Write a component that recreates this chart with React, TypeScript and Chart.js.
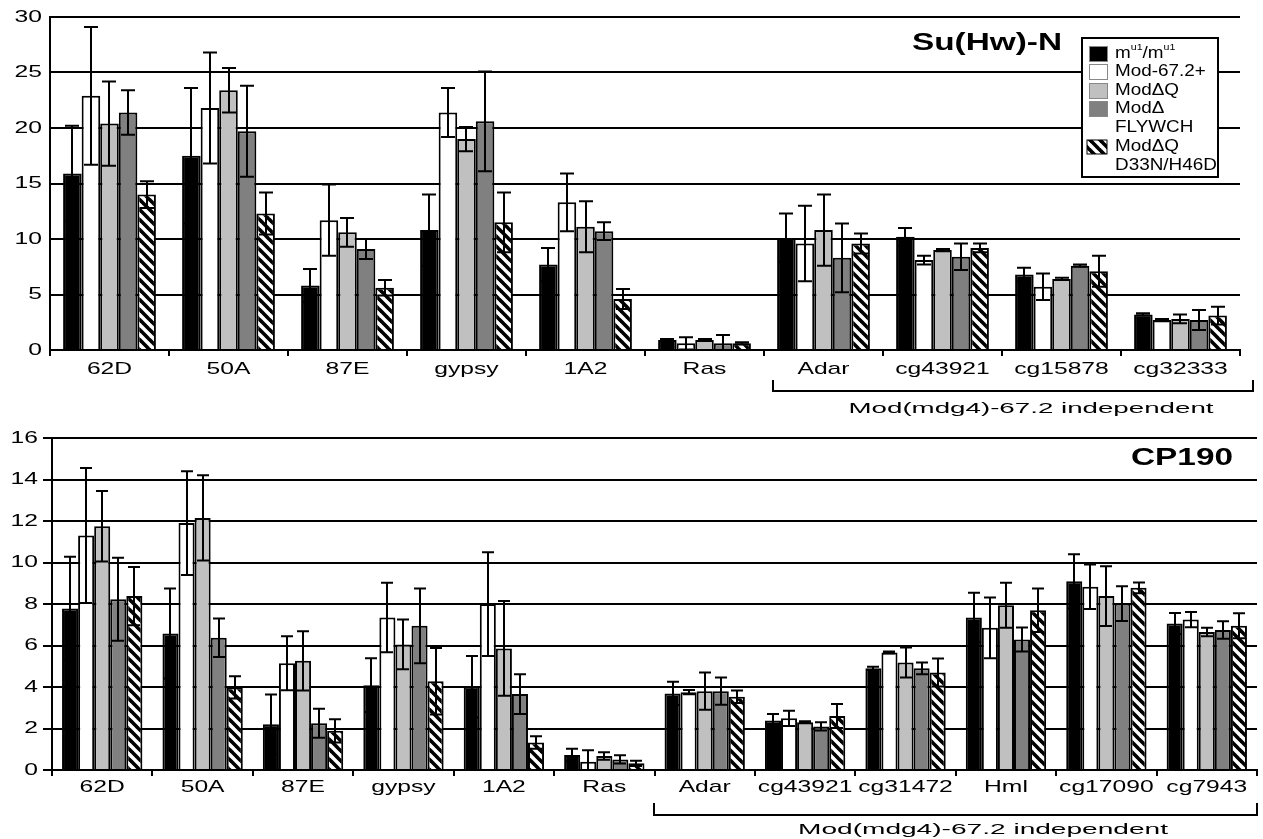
import React, { useEffect, useRef } from "react";
import { Chart, registerables } from "chart.js";
Chart.register(...registerables);

const FONT = "'Liberation Sans', Arial, Helvetica, sans-serif";

// ---------- DATA ----------
const seriesLabels = ["m{u1}/m{u1}", "Mod-67.2+", "ModΔQ", "ModΔ\nFLYWCH", "ModΔQ\nD33N/H46D"];

// Su(Hw)-N panel
const topTitle = "Su(Hw)-N";
const topCategories = ["62D", "50A", "87E", "gypsy", "1A2", "Ras", "Adar", "cg43921", "cg15878", "cg32333"];
const topYTicks = [0, 5, 10, 15, 20, 25, 30];
const topMutant = [15.9, 17.5, 5.8, 10.8, 7.7, 0.9, 10.1, 10.2, 6.8, 3.2];
const topMutantErr = [4.3, 6.1, 1.5, 3.2, 1.5, 0.1, 2.2, 0.8, 0.6, 0.1];
const topMod672 = [22.9, 21.8, 11.7, 21.4, 13.3, 0.6, 9.6, 8.1, 5.7, 2.7];
const topMod672Err = [6.2, 5.0, 3.2, 2.2, 2.6, 0.55, 3.4, 0.4, 1.2, 0.1];
const topModDQ = [20.4, 23.4, 10.6, 19.0, 11.1, 0.9, 10.8, 9.0, 6.4, 2.8];
const topModDQErr = [3.8, 2.0, 1.3, 1.1, 2.3, 0.1, 3.2, 0.1, 0.1, 0.4];
const topModDF = [21.4, 19.7, 9.1, 20.6, 10.7, 0.6, 8.3, 8.4, 7.6, 2.7];
const topModDFErr = [2.0, 4.1, 0.9, 4.5, 0.8, 0.75, 3.1, 1.2, 0.1, 0.9];
const topModDQmut = [14.0, 12.3, 5.6, 11.5, 4.6, 0.6, 9.6, 9.2, 7.1, 3.1];
const topModDQmutErr = [1.2, 1.9, 0.7, 2.7, 0.9, 0.1, 0.9, 0.4, 1.4, 0.8];

// CP190 panel
const botTitle = "CP190";
const botCategories = ["62D", "50A", "87E", "gypsy", "1A2", "Ras", "Adar", "cg43921", "cg31472", "Hml", "cg17090", "cg7943"];
const botYTicks = [0, 2, 4, 6, 8, 10, 12, 14, 16];
const botMutant = [7.78, 6.58, 2.2, 4.09, 4.01, 0.72, 3.69, 2.38, 4.9, 7.35, 9.1, 7.06];
const botMutantErr = [2.5, 2.17, 1.44, 1.29, 1.48, 0.3, 0.56, 0.32, 0.08, 1.19, 1.3, 0.51];
const botMod672 = [11.3, 11.9, 5.14, 7.35, 8.0, 0.4, 3.75, 2.49, 5.66, 6.85, 8.83, 7.25];
const botMod672Err = [3.25, 2.5, 1.3, 1.67, 2.5, 0.55, 0.1, 0.37, 0.05, 1.46, 1.07, 0.37];
const botModDQ = [11.75, 12.15, 5.26, 6.05, 5.86, 0.67, 3.8, 2.3, 5.18, 7.94, 8.38, 6.65];
const botModDQErr = [1.7, 2.05, 1.43, 1.2, 2.28, 0.18, 0.9, 0.05, 0.72, 1.08, 1.44, 0.2];
const botModDF = [8.23, 6.37, 2.25, 6.95, 3.66, 0.51, 3.8, 2.1, 4.9, 6.29, 8.02, 6.75];
const botModDFErr = [2.0, 0.93, 0.7, 1.8, 0.96, 0.2, 0.66, 0.2, 0.28, 0.58, 0.84, 0.42];
const botModDQmut = [8.38, 3.98, 1.89, 4.28, 1.33, 0.32, 3.53, 2.6, 4.7, 7.7, 8.78, 6.95];
const botModDQmutErr = [1.4, 0.54, 0.56, 1.6, 0.3, 0.13, 0.3, 0.58, 0.67, 1.05, 0.26, 0.6];

const bracketLabel = "Mod(mdg4)-67.2 independent";

// ---------- STYLE ----------
const fills = ["#000000", "#ffffff", "#c0c0c0", "#808080", "HATCH"];

function makeHatch(): CanvasPattern | string {
  const s = 10;
  const c = document.createElement("canvas");
  c.width = s;
  c.height = s;
  const g = c.getContext("2d");
  if (!g) return "#888";
  g.fillStyle = "#fff";
  g.fillRect(0, 0, s, s);
  g.strokeStyle = "#000";
  g.lineWidth = 3.6;
  for (const k of [-1, 0, 1]) {
    g.beginPath();
    g.moveTo(-1, k * s - 1);
    g.lineTo(s + 1, (k + 1) * s + 1);
    g.stroke();
  }
  return g.createPattern(c, "repeat") || "#888";
}

function sText(ctx: CanvasRenderingContext2D, text: string, x: number, y: number, align: string, font: string, sx: number) {
  ctx.save();
  ctx.font = font;
  ctx.textBaseline = "middle";
  ctx.textAlign = "left";
  const w = ctx.measureText(text).width * sx;
  const x0 = align === "left" ? x : align === "center" ? x - w / 2 : x - w;
  ctx.translate(x0, y);
  ctx.scale(sx, 1);
  ctx.fillStyle = "#000";
  ctx.fillText(text, 0, 0);
  ctx.restore();
  return w;
}

function fitText(ctx: CanvasRenderingContext2D, text: string, cx: number, y: number, font: string, targetW: number) {
  ctx.save();
  ctx.font = font;
  const w = ctx.measureText(text).width;
  ctx.restore();
  sText(ctx, text, cx, y, "center", font, targetW / w);
}

function drawRich(ctx: CanvasRenderingContext2D, text: string, x: number, y: number, size: number, sx: number) {
  const parts = text.split(/(\{[^}]*\})/).filter((p) => p.length);
  let cx = x;
  for (const p of parts) {
    if (p.startsWith("{")) {
      cx += sText(ctx, p.slice(1, -1), cx, y - 6, "left", `${Math.round(size * 0.55)}px ${FONT}`, sx);
    } else {
      cx += sText(ctx, p, cx, y, "left", `${size}px ${FONT}`, sx);
    }
  }
}

type Cfg = {
  categories: string[];
  series: number[][];
  errors: number[][];
  yMax: number;
  step: number;
  yTicks: number[];
  width: number;
  height: number;
  yAxisW: number;
  padTop: number;
  padRight: number;
  plotBottom: number;
  yTickLen: number;
  yLabelRight: number;
  xLabelY: number;
  catPct: number;
  capHalf: number;
  title: string;
  titleRight: number;
  titleY: number;
  bracket: { x1: number; x2: number; y: number; tickTop: number; textX: number; textY: number; textW: number };
  legend: boolean;
};

function buildChart(canvas: HTMLCanvasElement, cfg: Cfg) {
  const hatch = makeHatch();
  const datasets = cfg.series.map((vals, i) => ({
    label: seriesLabels[i],
    data: vals,
    backgroundColor: fills[i] === "HATCH" ? (hatch as any) : fills[i],
    borderColor: "#000",
    borderWidth: 2,
    barPercentage: 1,
    categoryPercentage: cfg.catPct,
  }));

  const overlay = {
    id: "overlay",
    afterDatasetsDraw(chart: any) {
      const ctx: CanvasRenderingContext2D = chart.ctx;
      const ys = chart.scales.y;
      ctx.save();
      ctx.strokeStyle = "#000";
      ctx.lineWidth = 2;
      cfg.series.forEach((vals, di) => {
        const meta = chart.getDatasetMeta(di);
        vals.forEach((v, j) => {
          const e = cfg.errors[di][j];
          const el = meta.data[j];
          const x = Math.round(el.x);
          const yt = ys.getPixelForValue(v + e);
          const yb = ys.getPixelForValue(Math.max(0, v - e));
          ctx.beginPath();
          ctx.moveTo(x, yt);
          ctx.lineTo(x, yb);
          ctx.moveTo(x - cfg.capHalf, yt);
          ctx.lineTo(x + cfg.capHalf, yt);
          ctx.moveTo(x - cfg.capHalf, yb);
          ctx.lineTo(x + cfg.capHalf, yb);
          ctx.stroke();
        });
      });
      ctx.restore();
    },
    afterDraw(chart: any) {
      const ctx: CanvasRenderingContext2D = chart.ctx;
      const ys = chart.scales.y;
      const xs = chart.scales.x;
      cfg.yTicks.forEach((t) => {
        sText(ctx, String(t), cfg.yLabelRight, ys.getPixelForValue(t), "right", `17px ${FONT}`, 1.45);
      });
      cfg.categories.forEach((c, i) => {
        sText(ctx, c, xs.getPixelForValue(i), cfg.xLabelY, "center", `17px ${FONT}`, 1.45);
      });
      sText(ctx, cfg.title, cfg.titleRight, cfg.titleY, "right", `bold 23px ${FONT}`, 1.45);
      const b = cfg.bracket;
      ctx.save();
      ctx.strokeStyle = "#000";
      ctx.lineWidth = 2;
      ctx.beginPath();
      ctx.moveTo(b.x1, b.tickTop);
      ctx.lineTo(b.x1, b.y);
      ctx.lineTo(b.x2, b.y);
      ctx.lineTo(b.x2, b.tickTop);
      ctx.stroke();
      ctx.restore();
      fitText(ctx, bracketLabel, b.textX, b.textY, `15px ${FONT}`, b.textW);
      if (cfg.legend) {
        const bx = 1082, by = 38, bw = 136, bh = 139;
        ctx.save();
        ctx.fillStyle = "#fff";
        ctx.fillRect(bx, by, bw, bh);
        ctx.strokeStyle = "#000";
        ctx.lineWidth = 2;
        ctx.strokeRect(bx, by, bw, bh);
        const rowY = [54, 72, 91, 109, 147];
        seriesLabels.forEach((lab, i) => {
          const cy = rowY[i];
          if (fills[i] === "HATCH") {
            ctx.fillStyle = hatch as any;
            ctx.fillRect(1087, cy - 7, 20, 14);
            ctx.strokeStyle = "#000";
            ctx.lineWidth = 1;
            ctx.strokeRect(1087, cy - 7, 20, 14);
          } else {
            ctx.fillStyle = fills[i];
            ctx.fillRect(1089, cy - 8, 19, 16);
            ctx.strokeStyle = "#888";
            ctx.lineWidth = 1;
            ctx.strokeRect(1089.5, cy - 7.5, 18, 15);
          }
          lab.split("\n").forEach((line, k) => {
            drawRich(ctx, line, 1115, cy + k * 18.5, 16, 1.18);
          });
        });
        ctx.restore();
      }
    },
  };

  return new Chart(canvas, {
    type: "bar",
    data: { labels: cfg.categories, datasets },
    options: {
      animation: false,
      responsive: false,
      maintainAspectRatio: false,
      events: [],
      layout: { padding: { left: 0, right: cfg.padRight, top: cfg.padTop, bottom: 0 } },
      plugins: { legend: { display: false }, tooltip: { enabled: false }, title: { display: false } },
      scales: {
        x: {
          offset: true,
          grid: {
            display: true,
            offset: true,
            drawOnChartArea: false,
            drawTicks: true,
            tickLength: 6,
            color: "#000",
            lineWidth: 2,
          },
          border: { display: true, color: "#000", width: 2 },
          ticks: { display: false },
          afterFit: (s: any) => {
            s.height = cfg.height - cfg.plotBottom;
          },
        },
        y: {
          min: 0,
          max: cfg.yMax,
          ticks: { display: false, stepSize: cfg.step },
          grid: {
            color: "#000",
            lineWidth: 2,
            drawTicks: cfg.yTickLen > 0,
            tickLength: cfg.yTickLen,
          },
          border: { display: true, color: "#000", width: 2 },
          afterFit: (s: any) => {
            s.width = cfg.yAxisW;
          },
        },
      },
    } as any,
    plugins: [overlay],
  });
}

const topCfg: Cfg = {
  categories: topCategories,
  series: [topMutant, topMod672, topModDQ, topModDF, topModDQmut],
  errors: [topMutantErr, topMod672Err, topModDQErr, topModDFErr, topModDQmutErr],
  yMax: 30,
  step: 5,
  yTicks: topYTicks,
  width: 1263,
  height: 420,
  yAxisW: 50,
  padTop: 17,
  padRight: 23,
  plotBottom: 350,
  yTickLen: 0,
  yLabelRight: 42,
  xLabelY: 369,
  catPct: 0.78,
  capHalf: 7,
  title: topTitle,
  titleRight: 1062,
  titleY: 44,
  bracket: { x1: 773, x2: 1253, y: 391, tickTop: 380, textX: 1031, textY: 409, textW: 365 },
  legend: true,
};

const botCfg: Cfg = {
  categories: botCategories,
  series: [botMutant, botMod672, botModDQ, botModDF, botModDQmut],
  errors: [botMutantErr, botMod672Err, botModDQErr, botModDFErr, botModDQmutErr],
  yMax: 16,
  step: 2,
  yTicks: botYTicks,
  width: 1263,
  height: 419,
  yAxisW: 52,
  padTop: 18,
  padRight: 6,
  plotBottom: 350,
  yTickLen: 9,
  yLabelRight: 38,
  xLabelY: 367,
  catPct: 0.8,
  capHalf: 6,
  title: botTitle,
  titleRight: 1233,
  titleY: 39,
  bracket: { x1: 654, x2: 1257, y: 395, tickTop: 383, textX: 983, textY: 410, textW: 370 },
  legend: false,
};

export default function App() {
  const topRef = useRef<HTMLCanvasElement | null>(null);
  const botRef = useRef<HTMLCanvasElement | null>(null);
  useEffect(() => {
    const charts: Chart[] = [];
    if (topRef.current) charts.push(buildChart(topRef.current, topCfg));
    if (botRef.current) charts.push(buildChart(botRef.current, botCfg));
    return () => charts.forEach((c) => c.destroy());
  }, []);
  return (
    <div style={{ position: "absolute", left: 0, top: 0, width: 1263, height: 839, background: "#fff", overflow: "hidden" }}>
      <canvas ref={topRef} width={1263} height={420} style={{ position: "absolute", left: 0, top: 0, width: 1263, height: 420 }} />
      <canvas ref={botRef} width={1263} height={419} style={{ position: "absolute", left: 0, top: 420, width: 1263, height: 419 }} />
    </div>
  );
}
